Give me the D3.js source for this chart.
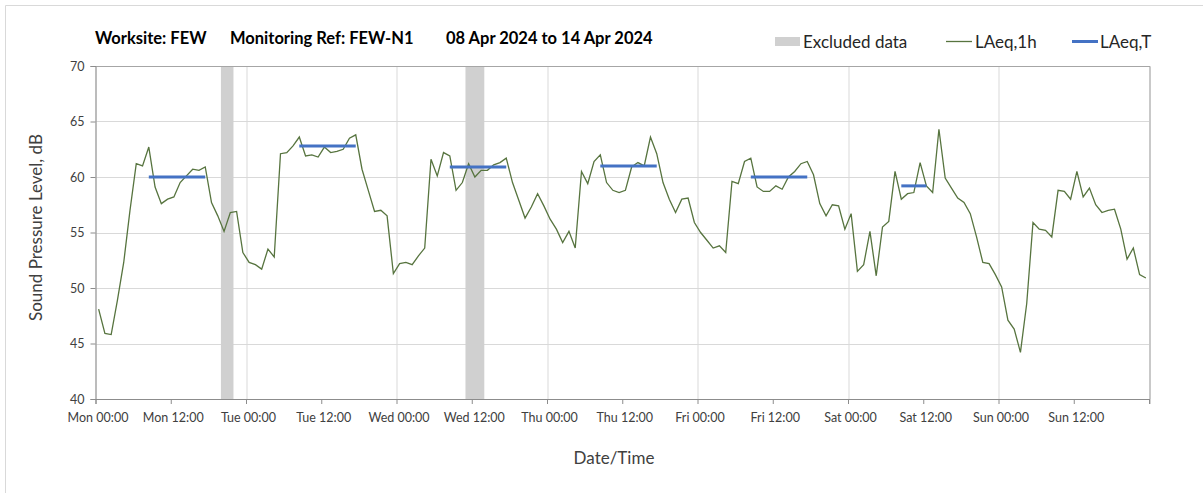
<!DOCTYPE html>
<html>
<head>
<meta charset="utf-8">
<script src="https://cdn.jsdelivr.net/npm/d3@7"></script>
<style>
  body { margin: 0; background: #fff; }
  svg text { font-family: Lato, "Open Sans", sans-serif; }
</style>
</head>
<body>
<div class="chart"></div>
<script>
'use strict';

// hourly LAeq,1h values, Mon 08 Apr 00:00 onwards
const laeq1h = [
  48.1, 45.9, 45.8, 48.9, 52.3, 57.0, 61.2, 61.0, 62.7, 59.1, 57.6, 58.0,
  58.2, 59.5, 60.1, 60.7, 60.6, 60.9, 57.7, 56.5, 55.1, 56.8, 56.9, 53.2,
  52.3, 52.1, 51.7, 53.5, 52.8, 62.1, 62.2, 62.8, 63.6, 61.9, 62.0, 61.8,
  62.7, 62.2, 62.3, 62.5, 63.5, 63.8, 60.7, 58.8, 56.9, 57.0, 56.5, 51.3,
  52.2, 52.3, 52.1, 52.9, 53.6, 61.6, 60.1, 62.2, 61.9, 58.8, 59.5, 61.2,
  60.0, 60.6, 60.6, 61.1, 61.3, 61.7, 59.5, 57.9, 56.3, 57.3, 58.5, 57.4,
  56.2, 55.3, 54.1, 55.1, 53.6, 60.5, 59.4, 61.4, 62.0, 59.5, 58.8, 58.6,
  58.8, 60.9, 61.3, 61.0, 63.6, 62.1, 59.5, 58.0, 56.8, 58.0, 58.1, 55.9,
  55.0, 54.3, 53.6, 53.8, 53.2, 59.6, 59.4, 61.4, 61.7, 59.1, 58.7, 58.7,
  59.2, 58.9, 60.0, 60.5, 61.2, 61.4, 60.2, 57.6, 56.5, 57.5, 57.4, 55.3,
  56.7, 51.5, 52.1, 55.1, 51.1, 55.5, 56.0, 60.5, 58.0, 58.5, 58.6, 61.3,
  59.2, 58.6, 64.3, 59.9, 59.0, 58.1, 57.7, 56.7, 54.6, 52.3, 52.2, 51.2,
  50.1, 47.1, 46.3, 44.2, 48.6, 55.9, 55.3, 55.2, 54.6, 58.8, 58.7, 58.0,
  60.5, 58.2, 59.0, 57.5, 56.8, 57.0, 57.1, 55.3, 52.6, 53.6, 51.2, 50.9
];

// LAeq,T over working periods
const periodStart = ['2024-04-08T08:00Z', '2024-04-09T08:00Z', '2024-04-10T08:00Z', '2024-04-11T08:00Z', '2024-04-12T08:00Z', '2024-04-13T08:00Z'];
const periodEnd = ['2024-04-08T18:00Z', '2024-04-09T18:00Z', '2024-04-10T18:00Z', '2024-04-11T18:00Z', '2024-04-12T18:00Z', '2024-04-13T13:00Z'];
const laeqT = [60.0, 62.8, 60.9, 61.0, 60.0, 59.2];

// excluded data periods
const excludedStart = ['2024-04-08T20:00Z', '2024-04-10T11:00Z'];
const excludedEnd = ['2024-04-08T22:00Z', '2024-04-10T14:00Z'];

const yTicks = [40, 45, 50, 55, 60, 65, 70];

const START = new Date('2024-04-08T00:00Z');
const END = new Date('2024-04-15T00:00Z');
const HOUR = 3600 * 1000;

const FULL_WIDTH = 1203;
const FULL_HEIGHT = 493;
const margin = { top: 66, right: 54, bottom: 94, left: 95.5 };
const WIDTH = FULL_WIDTH - margin.left - margin.right;
const HEIGHT = FULL_HEIGHT - margin.top - margin.bottom;

const root = d3.select('.chart')
  .append('svg')
    .attr('width', FULL_WIDTH)
    .attr('height', FULL_HEIGHT);

// outer chart border
root.append('path')
  .attr('d', 'M5.5,' + FULL_HEIGHT + 'V5.5H' + FULL_WIDTH)
  .attr('fill', 'none')
  .attr('stroke', '#d9d9d9');

const svg = root.append('g')
  .attr('transform', 'translate(' + margin.left + ',' + margin.top + ')');

const x = d3.scaleUtc()
  .domain([START, END])
  .range([0, WIDTH]);

const y = d3.scaleLinear()
  .domain([40, 70])
  .range([HEIGHT, 0]);

const dayTicks = d3.utcDay.range(START, new Date(+END + 1));
const halfDayTicks = d3.utcHour.every(12).range(START, new Date(+END + 1));
const fmt = d3.utcFormat('%a %H:%M');

// gridlines
svg.append('g')
  .selectAll('line.hgrid')
  .data(yTicks)
  .enter()
  .append('line')
    .attr('x1', 0)
    .attr('x2', WIDTH)
    .attr('y1', (d) => Math.round(y(d)) + 0.5)
    .attr('y2', (d) => Math.round(y(d)) + 0.5)
    .attr('stroke', '#d9d9d9');

svg.append('g')
  .selectAll('line.vgrid')
  .data(dayTicks)
  .enter()
  .append('line')
    .attr('x1', (d) => Math.round(x(d)) + 0.5)
    .attr('x2', (d) => Math.round(x(d)) + 0.5)
    .attr('y1', 0)
    .attr('y2', HEIGHT)
    .attr('stroke', '#d9d9d9');

// excluded bands
svg.append('g')
  .selectAll('rect')
  .data(excludedStart)
  .enter()
  .append('rect')
    .attr('x', (d) => x(new Date(d)))
    .attr('width', (d, i) => x(new Date(excludedEnd[i])) - x(new Date(d)))
    .attr('y', 0)
    .attr('height', HEIGHT)
    .attr('fill', '#d0d0d0');

// plot frame (top and right)
svg.append('path')
  .attr('d', 'M0,0.5H' + (Math.round(WIDTH) + 0.5) + 'V' + (HEIGHT + 5))
  .attr('fill', 'none')
  .attr('stroke', '#a6a6a6');

// axes
const xAxis = svg.append('g')
  .attr('transform', 'translate(0,' + HEIGHT + ')')
  .call(d3.axisBottom(x)
    .tickValues(halfDayTicks)
    .tickSize(5)
    .tickFormat((d) => +d === +END ? '' : fmt(d)));

xAxis.selectAll('text')
  .attr('dx', 2)
  .attr('dy', '1.2em');

const yAxis = svg.append('g')
  .call(d3.axisLeft(y)
    .tickValues(yTicks)
    .tickSize(5)
    .tickFormat(d3.format('d')));

yAxis.selectAll('text')
  .attr('dx', -3);

[xAxis, yAxis].forEach((a) => {
  a.select('.domain').attr('stroke', '#8c8c8c');
  a.selectAll('.tick line').attr('stroke', '#8c8c8c');
  a.selectAll('text')
    .attr('fill', '#404040')
    .style('font-size', '12.5px');
});

// LAeq,1h line
const line = d3.line()
  .x((d, i) => x(new Date(+START + (i + 0.5) * HOUR)))
  .y((d) => y(d));

svg.append('path')
  .datum(laeq1h)
  .attr('d', line)
  .attr('fill', 'none')
  .attr('stroke', '#57743f')
  .attr('stroke-width', 1.3);

// LAeq,T segments
svg.append('g')
  .selectAll('line')
  .data(laeqT)
  .enter()
  .append('line')
    .attr('x1', (d, i) => x(new Date(+new Date(periodStart[i]) + 0.5 * HOUR)))
    .attr('x2', (d, i) => x(new Date(+new Date(periodEnd[i]) - 0.5 * HOUR)))
    .attr('y1', (d) => y(d))
    .attr('y2', (d) => y(d))
    .attr('stroke', '#4472c4')
    .attr('stroke-width', 3);

// axis titles
root.append('text')
  .attr('transform', 'translate(42,' + (margin.top + HEIGHT / 2 - 5) + ') rotate(-90)')
  .attr('text-anchor', 'middle')
  .attr('fill', '#404040')
  .style('font-size', '17px')
  .text('Sound Pressure Level, dB');

root.append('text')
  .attr('x', 614)
  .attr('y', 464)
  .attr('text-anchor', 'middle')
  .attr('fill', '#404040')
  .style('font-size', '17px')
  .text('Date/Time');

// title
const titleParts = [
  { x: 95, text: 'Worksite: FEW' },
  { x: 230, text: 'Monitoring Ref: FEW-N1' },
  { x: 446, text: '08 Apr 2024 to 14 Apr 2024' }
];

root.selectAll('.title')
  .data(titleParts)
  .enter()
  .append('text')
    .attr('class', 'title')
    .attr('x', (d) => d.x)
    .attr('y', 44)
    .attr('fill', '#000')
    .style('font-size', '16.5px')
    .style('font-weight', 'bold')
    .text((d) => d.text);

// legend
const legend = root.append('g');

legend.append('rect')
  .attr('x', 775)
  .attr('y', 37)
  .attr('width', 25)
  .attr('height', 9)
  .attr('fill', '#d0d0d0');
legend.append('text')
  .attr('x', 803)
  .attr('y', 47.5)
  .attr('fill', '#262626')
  .style('font-size', '17px')
  .text('Excluded data');

legend.append('line')
  .attr('x1', 946)
  .attr('x2', 972)
  .attr('y1', 41.5)
  .attr('y2', 41.5)
  .attr('stroke', '#57743f')
  .attr('stroke-width', 1.3);
legend.append('text')
  .attr('x', 975)
  .attr('y', 47.5)
  .attr('fill', '#262626')
  .style('font-size', '17px')
  .text('LAeq,1h');

legend.append('line')
  .attr('x1', 1072)
  .attr('x2', 1098)
  .attr('y1', 41.5)
  .attr('y2', 41.5)
  .attr('stroke', '#4472c4')
  .attr('stroke-width', 3);
legend.append('text')
  .attr('x', 1100)
  .attr('y', 47.5)
  .attr('fill', '#262626')
  .style('font-size', '17px')
  .text('LAeq,T');
</script>
</body>
</html>
